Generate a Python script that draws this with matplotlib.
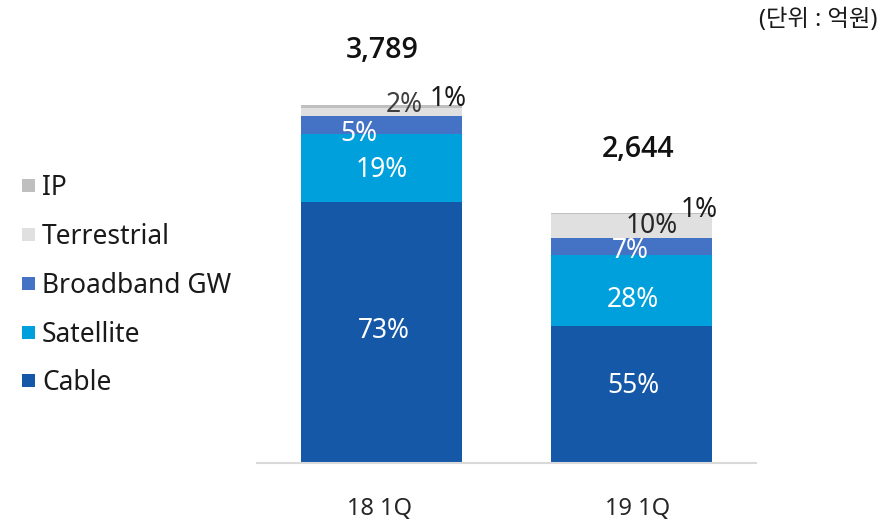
import matplotlib
matplotlib.use("Agg")
import matplotlib.pyplot as plt
from matplotlib.patches import Rectangle
from matplotlib.transforms import ScaledTranslation
import numpy as np

plt.rcParams['font.family'] = ['Noto Sans', 'Noto Sans CJK KR', 'DejaVu Sans']

# ---- data (억원) ----
categories = ["18 1Q", "19 1Q"]
series_names = ["Cable", "Satellite", "Broadband GW", "Terrestrial", "IP"]
cable = [2766, 1446]
satellite = [717, 757]
broadband = [189, 176]
terrestrial = [83, 253]
ip = [34, 12]
totals = [3789, 2644]
total_labels = ["3,789", "2,644"]
pct_labels = [["73%", "19%", "5%", "2%", "1%"],
              ["55%", "28%", "7%", "10%", "1%"]]
unit_text = "(단위 : 억원)"

# ---- styles ----
colors = ["#1558A7", "#00A0DC", "#4472C4", "#E0E0E0", "#BFBFBF"]
label_colors = ["white", "white", "white", "#404040", "#1a1a1a"]
label_colors2 = ["white", "white", "white", "#262626", "#1a1a1a"]
# label offsets from segment centre in pixels (dx right, dy down)
offsets = [[(2, -4), (0, -1), (-23, 6), (22, -10), (66, -11)],
           [(2, -11), (2, 7), (-1, 2), (20, -3), (68, -7)]]
total_offsets = [(0, -57.5), (6.5, -66.5)]
vshift = 3  # text baseline correction (px, down)

W, H = 896, 524
fig = plt.figure(figsize=(W / 100, H / 100), dpi=100)
ax = fig.add_axes([257 / W, 1 - 462.7 / H, 499 / W, (462.7 - 30) / H])

x = np.arange(len(categories))
series = [cable, satellite, broadband, terrestrial, ip]
bottom = np.zeros(len(categories))
bar_w = 161 / 249
seg_centres = []
for vals, col in zip(series, colors):
    v = np.array(vals, dtype=float)
    ax.bar(x, v, bottom=bottom, width=bar_w, color=col, edgecolor='none')
    seg_centres.append(bottom + v / 2)
    bottom = bottom + v

ax.set_xlim(-0.5, 1.5)
ax.set_ylim(0, 432.7 / (357.7 / 3789))

for i in range(len(categories)):
    lc = label_colors if i == 0 else label_colors2
    for j in range(len(series)):
        dx, dy = offsets[i][j]
        ax.annotate(pct_labels[i][j], xy=(x[i], seg_centres[j][i]),
                    xytext=(dx, -(dy + vshift)), textcoords='offset pixels',
                    ha='center', va='center', fontsize=19, color=lc[j])
    dx, dy = total_offsets[i]
    ax.annotate(total_labels[i], xy=(x[i], totals[i]), xytext=(dx, -(dy + vshift)),
                textcoords='offset pixels', ha='center', va='center',
                fontsize=20.5, fontweight='semibold', color='#111111',
                family=['Open Sans', 'Lato', 'DejaVu Sans'])

for s in ['top', 'right', 'left']:
    ax.spines[s].set_visible(False)
ax.spines['bottom'].set_color('#D9D9D9')
ax.spines['bottom'].set_linewidth(1.5)
ax.set_yticks([])
ax.set_xticks(x)
ax.set_xticklabels(categories, fontsize=17, color='#262626')
ax.tick_params(axis='x', length=0, pad=25)
for lbl, dx in zip(ax.get_xticklabels(), [-2, 6.5]):
    lbl.set_transform(lbl.get_transform() + ScaledTranslation(dx / 100, 0, fig.dpi_scale_trans))

# legend (top: IP ... bottom: Cable)
leg_y = [185, 234, 283, 332, 380]
for yy, name, col in zip(leg_y, series_names[::-1], colors[::-1]):
    fig.add_artist(Rectangle((22 / W, 1 - (yy + 6.5) / H), 13 / W, 13 / H,
                             transform=fig.transFigure, color=col, lw=0))
    fig.text(42 / W, 1 - (yy + vshift) / H, name, fontsize=19, va='center', ha='left',
             color='#1a1a1a')

fig.text(877 / W, 1 - 20 / H, unit_text, fontsize=16.8, ha='right', va='center',
         color='#1a1a1a', fontweight='medium')

fig.savefig("out.png", dpi=100)
